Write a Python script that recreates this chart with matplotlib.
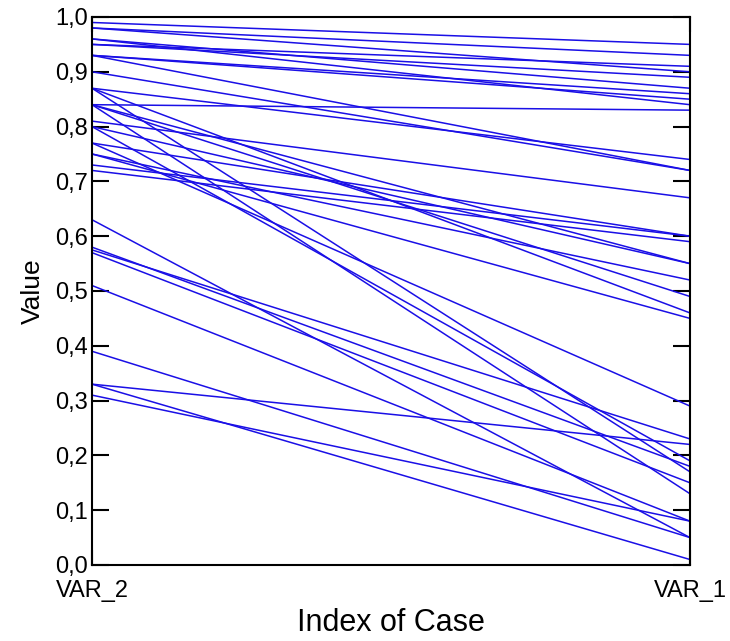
import matplotlib
matplotlib.use("Agg")
import matplotlib.pyplot as plt
from matplotlib.ticker import FuncFormatter

plt.rcParams['font.family'] = ['Liberation Sans', 'DejaVu Sans']

categories = ['VAR_2', 'VAR_1']
var_2 = [0.99, 0.98, 0.98, 0.96, 0.95, 0.95, 0.93, 0.93, 0.96, 0.84,
         0.87, 0.93, 0.90, 0.81, 0.77, 0.72, 0.73, 0.84, 0.80, 0.75,
         0.84, 0.87, 0.75, 0.77, 0.87, 0.84, 0.80, 0.63, 0.58, 0.575,
         0.57, 0.51, 0.39, 0.33, 0.33, 0.31]
var_1 = [0.95, 0.93, 0.90, 0.87, 0.91, 0.89, 0.86, 0.85, 0.84, 0.83,
         0.74, 0.72, 0.72, 0.67, 0.60, 0.59, 0.60, 0.55, 0.55, 0.52,
         0.49, 0.46, 0.45, 0.29, 0.17, 0.13, 0.19, 0.05, 0.18, 0.23,
         0.15, 0.08, 0.05, 0.22, 0.01, 0.08]
yticks = [0.0, 0.1, 0.2, 0.3, 0.4, 0.5, 0.6, 0.7, 0.8, 0.9, 1.0]

fig = plt.figure(figsize=(7.30, 6.41), dpi=100)
ax = fig.add_axes([92/730, 1-565/641, (690-92)/730, (565-17)/641])

xpos = list(range(len(categories)))
for a, b in zip(var_2, var_1):
    ax.plot(xpos, [a, b], color='#1a0fe6', lw=1.1, solid_capstyle='butt')

ax.set_xlim(0, 1)
ax.set_ylim(0, 1)
ax.set_xticks(xpos)
ax.set_xticklabels(categories, fontsize=17)
ax.set_yticks(yticks)
ax.yaxis.set_major_formatter(FuncFormatter(lambda v, p: f"{v:.1f}".replace('.', ',')))
ax.tick_params(axis='y', labelsize=17, direction='in', length=12, width=1.5,
               right=True, pad=3)
ax.tick_params(axis='x', direction='in', length=11, width=1.5, top=True, pad=11)
for s in ax.spines.values():
    s.set_linewidth(1.5)

ax.set_ylabel('Value', fontsize=19, labelpad=7)
ax.set_xlabel('Index of Case', fontsize=22, labelpad=4)

fig.savefig('out.png', dpi=100)
